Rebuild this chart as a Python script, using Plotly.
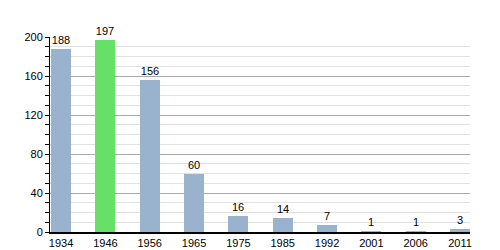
import plotly.graph_objects as go

years = ["1934", "1946", "1956", "1965", "1975", "1985", "1992", "2001", "2006", "2011"]
values = [188, 197, 156, 60, 16, 14, 7, 1, 1, 3]
highlight = "1946"
base_color = "#99b3cf"
hl_color = "#66e066"

colors = [hl_color if y == highlight else base_color for y in years]

fig = go.Figure(go.Bar(
    x=list(range(len(years))), y=values,
    marker=dict(color=colors, line=dict(width=0)),
    width=0.45,
    text=[str(v) for v in values], textposition="outside",
    textfont=dict(family="Liberation Sans, Arial", size=11, color="#000"),
    cliponaxis=False,
))

fig.update_layout(
    width=500, height=250,
    margin=dict(l=50, r=30, t=37, b=18, autoexpand=False),
    paper_bgcolor="white", plot_bgcolor="white",
    showlegend=False,
    font=dict(family="Liberation Sans, Arial", size=11, color="#000"),
    bargap=0,
)
fig.update_xaxes(
    range=[-0.25, 9.225], automargin=False,
    tickmode="array", tickvals=list(range(len(years))), ticktext=years,
    showline=True, linecolor="#000", linewidth=1.5,
    showgrid=False, ticks="", tickfont=dict(size=11),
)
fig.update_yaxes(
    range=[0, 200], tickvals=[0, 40, 80, 120, 160, 200], automargin=False,
    showline=True, linecolor="#000", linewidth=1,
    ticks="outside", ticklen=4, tickcolor="#000",
    showgrid=True, gridcolor="#aaaaaa", gridwidth=1,
    zeroline=False,
    minor=dict(dtick=10, ticks="outside", ticklen=4, tickcolor="#000",
               showgrid=True, gridcolor="#e2e2e2", gridwidth=1),
    tickfont=dict(size=11),
)

fig.write_html("out.html")
